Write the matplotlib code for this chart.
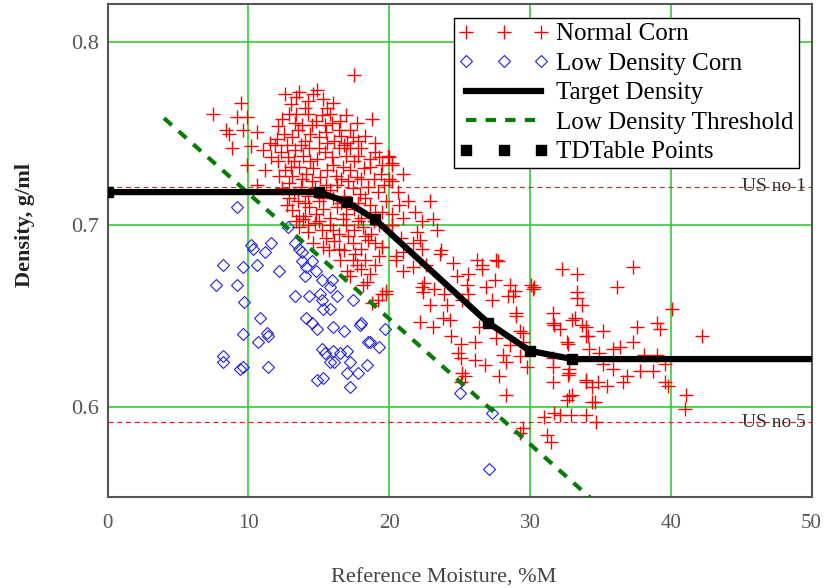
import numpy as np
import matplotlib.pyplot as plt

plt.rcParams['font.family'] = ['Liberation Serif', 'DejaVu Serif']

# Normal corn: moisture (%M), density (g/ml)
normal_pts = [
    # sparse upper left
    (7.5, .761), (9.5, .767), (9.2, .759), (9.9, .759), (8.4, .752), (8.6, .750), (9.6, .752),
    (10.6, .751), (8.8, .742), (10.2, .743), (9.9, .733), (11.2, .730), (10.6, .722), (11.5, .745),
    (11.0, .741), (17.5, .782), (18.8, .758),
    # dense core
    (12.6, .772), (13.4, .770), (13.6, .773), (14.2, .768), (14.6, .772), (14.9, .774), (15.3, .769),
    (16.0, .767), (13.0, .766), (15.6, .764),
    (12.4, .758), (12.9, .761), (13.4, .761), (14.2, .761), (14.8, .757), (15.2, .760), (15.9, .756),
    (16.5, .757), (16.9, .760), (17.7, .756), (13.8, .755), (12.1, .754),
    (12.0, .747), (12.5, .750), (13.1, .748), (13.5, .752), (14.0, .746), (14.4, .750), (15.0, .748),
    (15.5, .751), (16.1, .746), (16.6, .749), (17.2, .752), (17.8, .746), (18.3, .749), (11.9, .744),
    (13.7, .744),
    (12.3, .740), (12.8, .737), (13.3, .741), (13.9, .738), (14.3, .742), (14.9, .736), (15.4, .740),
    (15.9, .737), (16.4, .742), (16.9, .738), (17.2, .742), (17.8, .738), (18.6, .736), (19.0, .740),
    (19.9, .738), (12.1, .735), (11.6, .737),
    (12.6, .730), (13.1, .727), (13.6, .732), (14.1, .728), (14.6, .731), (15.1, .726), (15.6, .730),
    (16.2, .727), (16.7, .732), (17.2, .730), (17.7, .726), (18.2, .731), (18.6, .732), (19.4, .728),
    (20.2, .734), (20.0, .725), (12.9, .723),
    (12.4, .720), (13.2, .717), (13.7, .721), (14.2, .716), (14.7, .720), (15.3, .715), (15.8, .719),
    (16.3, .722), (16.8, .716), (17.4, .720), (17.9, .717), (18.5, .721), (19.2, .718), (19.8, .713),
    (12.9, .715), (14.0, .712),
    (13.1, .708), (13.6, .705), (14.3, .710), (14.8, .706), (15.3, .709), (15.8, .704), (16.3, .710),
    (16.9, .706), (17.5, .709), (18.0, .704), (18.6, .711), (19.0, .707), (20.2, .706), (13.9, .703),
    (13.6, .699), (14.2, .696), (14.7, .701), (15.2, .697), (15.8, .700), (16.4, .695), (16.9, .700),
    (17.5, .697), (18.1, .699), (18.7, .695), (19.3, .700), (20.2, .700), (15.5, .693),
    (14.6, .690), (15.3, .688), (16.1, .691), (16.8, .686), (17.4, .690), (18.0, .687), (18.5, .692),
    (19.5, .688), (20.5, .683), (16.5, .681), (17.4, .681), (17.7, .678),
    (17.0, .675), (17.2, .672), (18.1, .667), (18.4, .669), (18.8, .657), (19.2, .659), (19.5, .662),
    (19.8, .664),
    (12.7, .744), (13.2, .735), (13.8, .725), (14.4, .735), (15.0, .742), (15.6, .745), (16.0, .733),
    (16.6, .725), (17.0, .745), (17.5, .735), (18.0, .725), (18.9, .725), (19.5, .733), (14.5, .755),
    (15.8, .761), (16.4, .752), (17.4, .748), (13.0, .732), (13.5, .713), (14.5, .724), (15.0, .713),
    (15.5, .722), (16.0, .715), (16.6, .712), (17.1, .724), (17.8, .712), (18.3, .715), (19.5, .707),
    (14.0, .705), (15.0, .702), (16.0, .697), (16.7, .703), (17.8, .702), (18.3, .694), (19.0, .690),
    (14.2, .700), (15.7, .686), (17.1, .694), (18.9, .702), (16.4, .687), (17.6, .684), (18.3, .681),
    (19.0, .678), (18.6, .673), (18.0, .676), (13.3, .756), (14.0, .764), (15.4, .755), (16.8, .744),
    (18.0, .742), (12.2, .727), (12.7, .711), (13.4, .702), (19.0, .745), (19.6, .722), (20.6, .718),
    (21.0, .728), (20.8, .693),
    # diagonal band
    (20.0, .737), (20.2, .733), (20.2, .724), (19.3, .737), (21.3, .713), (20.7, .711), (22.9, .713),
    (21.8, .707), (21.0, .704), (22.3, .702), (23.1, .703), (23.4, .697), (20.2, .700), (22.0, .696),
    (22.2, .692), (21.7, .690), (22.3, .687), (23.7, .686), (23.6, .684), (19.5, .688), (20.5, .681),
    (21.7, .677), (22.6, .678), (24.5, .679), (26.2, .681), (27.7, .680), (26.6, .676), (25.6, .673),
    (24.8, .672), (27.5, .670), (26.9, .666), (28.6, .667), (28.9, .664), (28.4, .661), (22.5, .668),
    (22.4, .663), (23.2, .665), (23.9, .662), (25.6, .662), (30.3, .666), (19.8, .662), (21.0, .685),
    (21.0, .675), (19.3, .683), (22.3, .666), (25.5, .667), (30.2, .665),
    (22.9, .656), (24.1, .656), (25.2, .659), (27.3, .659), (28.8, .661), (22.2, .647), (23.1, .644),
    (23.8, .649), (24.3, .648), (26.4, .644), (29.0, .650), (24.4, .639), (25.1, .635), (26.1, .636),
    (27.6, .638), (29.5, .641), (28.6, .634), (29.5, .636), (24.9, .630), (25.1, .627), (26.1, .626),
    (26.8, .623), (28.1, .629), (28.3, .625), (29.3, .628), (29.8, .622), (27.8, .617), (25.2, .619),
    (25.4, .617), (25.1, .614), (28.3, .607), (29.5, .589), (29.3, .586), (29.0, .652), (29.3, .642),
    # right spread
    (33.3, .663), (33.3, .660), (33.7, .656), (31.6, .652), (31.6, .646), (33.0, .648), (34.0, .644),
    (34.0, .639), (32.6, .636), (31.6, .622), (32.7, .618), (32.8, .621), (34.0, .615), (34.4, .611),
    (31.6, .614), (32.8, .606), (33.0, .607), (32.6, .604), (34.4, .603), (31.0, .595), (32.1, .596),
    (32.9, .596), (34.0, .596), (34.7, .592), (31.2, .585), (31.5, .581),
    (32.3, .676), (33.3, .673), (37.3, .677), (36.2, .666), (33.2, .649), (31.7, .645), (35.2, .642),
    (37.6, .644), (39.0, .646), (39.2, .643), (40.1, .654), (42.2, .639), (34.1, .639), (37.3, .636),
    (32.7, .635), (34.2, .632), (36.4, .633), (34.9, .630), (35.9, .632), (38.1, .629), (39.0, .629),
    (31.6, .627), (35.2, .624), (35.9, .621), (36.9, .617), (37.8, .620), (38.7, .620), (39.6, .624),
    (32.8, .619), (34.0, .614), (34.8, .614), (35.5, .612), (36.6, .614), (39.6, .614), (39.8, .612),
    (34.6, .603), (41.1, .607), (41.0, .599), (31.7, .597), (32.1, .643), (33.7, .645), (30.1, .667),
    (27.6, .681), (26.6, .678),
]

# Low density corn
low_pts = [
    (9.2, .710), (12.8, .699), (10.2, .689), (10.3, .687), (11.6, .690), (11.2, .685), (13.3, .690),
    (13.6, .687), (13.8, .685), (8.2, .678), (9.6, .677), (10.6, .678), (12.2, .675), (13.8, .680),
    (14.5, .680), (14.1, .677), (7.7, .667), (9.2, .667), (14.0, .672), (14.8, .675), (15.2, .670),
    (15.9, .670), (13.3, .661), (9.7, .658), (14.3, .661), (15.1, .662), (15.2, .659), (15.8, .666),
    (16.3, .661), (17.4, .659), (15.3, .654), (15.8, .654), (10.8, .649), (14.1, .649), (14.5, .646),
    (14.9, .643), (16.0, .644), (16.8, .642), (17.9, .645), (19.7, .643), (9.6, .640), (11.3, .641),
    (11.4, .639), (10.7, .636), (18.5, .636), (19.3, .633), (15.2, .632), (15.4, .630), (16.0, .631),
    (17.0, .631), (16.5, .630), (8.2, .628), (8.2, .625), (15.8, .625), (16.1, .625), (17.2, .625),
    (18.4, .623), (9.6, .622), (9.4, .621), (11.4, .622), (17.0, .619), (17.8, .619), (14.9, .615),
    (15.3, .616), (17.2, .611), (25.0, .608), (27.3, .597), (27.1, .566), (18.0, .646), (18.6, .636),
]

# target density table
td_moist = [0, 15, 17, 19, 27, 30, 33, 50]
td_dens = [0.718, 0.718, 0.7125, 0.703, 0.6465, 0.631, 0.6265, 0.6265]

thresh_moist = [4, 35]
thresh_dens = [0.7585, 0.5455]

us1 = 0.721
us5 = 0.592

nx, ny = zip(*normal_pts)
lx, ly = zip(*low_pts)

fig = plt.figure(figsize=(8.35, 5.88), dpi=100)
ax = fig.add_axes([0.129, 0.155, 0.843, 0.838])

ax.axhline(us1, color='#a04040', lw=0.9, ls=(0, (4, 3)), zorder=1)
ax.axhline(us5, color='#e02020', lw=0.9, ls=(0, (4, 3)), zorder=1)

ax.plot(nx, ny, '+', color='red', ms=10, mew=1.0, ls='none', label='Normal Corn', zorder=3)
ax.plot(lx, ly, 'D', mfc='none', mec='#2020e0', ms=6.5, mew=0.8, ls='none',
        label='Low Density Corn', zorder=3)
ax.plot(td_moist, td_dens, '-', color='black', lw=4.5, label='Target Density', zorder=5)
ax.plot(thresh_moist, thresh_dens, color='#0a7a0a', lw=3, ls=(0, (2.5, 2.2)),
        label='Low Density Threshold', zorder=4)
ax.plot(td_moist[:-1], td_dens[:-1], 's', color='black', ms=7, ls='none',
        label='TDTable Points', zorder=6)

ax.text(49.6, us1, 'US no 1', ha='right', va='center', fontsize=14, color='#333333', zorder=2)
ax.text(49.6, us5, 'US no 5', ha='right', va='center', fontsize=14, color='#333333', zorder=2)

ax.set_xlim(0, 50)
ax.set_ylim(0.551, 0.821)
ax.set_xticks([0, 10, 20, 30, 40, 50])
ax.set_yticks([0.6, 0.7, 0.8])
ax.set_yticklabels(['0.6', '0.7', '0.8'])
ax.grid(True, color='#33cc33', lw=1.2, zorder=0)
ax.set_axisbelow(True)
ax.tick_params(axis='x', length=0, labelsize=15, labelcolor='#555555', pad=12)
ax.tick_params(axis='y', length=0, labelsize=16, labelcolor='#555555', pad=6)
for s in ax.spines.values():
    s.set_color('#555555')
    s.set_linewidth(1.5)

ax.set_xlabel('Reference Moisture, %M', fontsize=16, color='#444444')
ax.xaxis.set_label_coords(0.477, -0.145)
ax.set_ylabel('Density, g/ml', fontsize=16, color='#222222', fontweight='bold')
ax.yaxis.set_label_coords(-0.104, 0.552)

leg = ax.legend(loc='upper right', bbox_to_anchor=(0.9815, 0.972), numpoints=3,
                handlelength=3.6, fontsize=18, frameon=True, fancybox=False,
                borderpad=0.2, labelspacing=0.28, handletextpad=0.3, borderaxespad=0)
leg.get_frame().set_edgecolor('black')
leg.get_frame().set_linewidth(1.0)
leg.get_frame().set_alpha(1)

fig.savefig('out.png', dpi=100)
